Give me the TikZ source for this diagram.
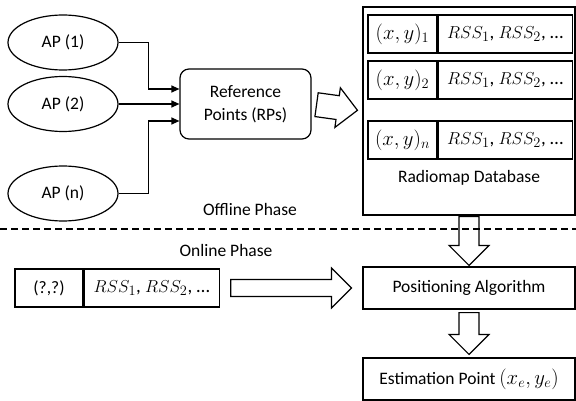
\documentclass[tikz,border=0pt]{standalone}
\usepackage{fontspec}
\setmainfont{Carlito}
\usepackage{tikz}
\usetikzlibrary{arrows.meta, shapes.geometric, positioning, calc}
\tikzstyle{apNode} = [draw, ellipse, line width=1.2pt, minimum width=110pt,
   minimum height=55pt, inner sep=0]
\tikzstyle{rpBox} = [draw, rectangle, rounded corners=9pt, line width=1.2pt,
   minimum width=131pt, minimum height=70pt, align=center]
\tikzstyle{cell} = [draw, rectangle, line width=1.2pt, minimum height=38pt, inner sep=0]
\tikzstyle{stepBox} = [draw, rectangle, line width=1.2pt, minimum width=212pt,
   minimum height=42pt, inner sep=0]
\tikzstyle{apArrow} = [line width=1.2pt, -{Triangle[length=8pt,width=7pt]}]
% hollow block arrow: #1 = half shaft width, #2 = gap at both ends
\tikzset{fatArrow/.style 2 args={line width=1.2pt, line join=miter, to path={
   ($(\tikztostart)!#2!(\tikztotarget)!#1!90:(\tikztotarget)$)
   -- ($(\tikztotarget)!#2+20pt!(\tikztostart)!#1!-90:(\tikztostart)$)
   -- ($(\tikztotarget)!#2+20pt!(\tikztostart)!20pt!-90:(\tikztostart)$)
   -- ($(\tikztotarget)!#2!(\tikztostart)$)
   -- ($(\tikztotarget)!#2+20pt!(\tikztostart)!20pt!90:(\tikztostart)$)
   -- ($(\tikztotarget)!#2+20pt!(\tikztostart)!#1!90:(\tikztostart)$)
   -- ($(\tikztostart)!#2!(\tikztotarget)!#1!-90:(\tikztotarget)$)
   -- cycle}}}
\newcommand{\rssrow}{{\fontsize{19}{23}\selectfont$RSS_1$, $RSS_2$, …}}
\newcommand{\bigmath}[1]{{\fontsize{19.5}{23}\selectfont$#1$}}

\begin{document}
\begin{tikzpicture}[x=1pt, y=-1pt, font=\fontsize{17.5}{23}\selectfont]
  \useasboundingbox (0,0) rectangle (576,401);
  % offline side
  \node[apNode] (a) at (63,42.5) {AP (1)};
  \node[apNode] (b) at (63,104) {AP (2)};
  \node[apNode] (n) at (63,193.5) {AP (n)};
  \node[rpBox] (rp) at (245.5,104) {Reference\\Points (RPs)};
  \node[draw, rectangle, line width=1.2pt, minimum width=212pt,
     minimum height=208pt] (db) at (469,111) {};
  \node[cell, minimum width=69pt] (k1) at (402.5,34) {\bigmath{(x,y)_1}};
  \node[cell, minimum width=134pt, right=0pt of k1] (v1) {\rssrow};
  \node[cell, minimum width=69pt] (k2) at (402.5,80) {\bigmath{(x,y)_2}};
  \node[cell, minimum width=134pt, right=0pt of k2] (v2) {\rssrow};
  \node[cell, minimum width=69pt] (kn) at (402.5,140) {\bigmath{(x,y)_n}};
  \node[cell, minimum width=134pt, right=0pt of kn] (vn) {\rssrow};
  \node (dbl) at (469,178) {Radiomap Database};
  \node (off) at (250,209) {Offline Phase};
  % phase border
  \coordinate (dl) at (0,229);
  \coordinate (dr) at (576,229);
  \draw[line width=1.2pt, dash pattern=on 7pt off 4pt] (dl) -- (dr);
  % online side
  \node (on) at (226,250) {Online Phase};
  \node[cell, minimum width=68pt] (qk) at (49,288) {(?,?)};
  \node[cell, minimum width=135pt, right=0pt of qk] (qv) {\rssrow};
  \node[stepBox] (pos) at (469,288) {Positioning Algorithm};
  \node[stepBox] (est) at (469,379) {Estimation Point \bigmath{(x_e, y_e)}};

  % arrows
  \draw[apArrow] (a.east) -- ++(30,0) |- ([yshift=15pt]rp.west);
  \draw[apArrow] (b.east) -- (rp.west);
  \draw[apArrow] (n.east) -- ++(30,0) |- ([yshift=-17pt]rp.west);
  \draw[fatArrow={12pt}{5pt}] (rp.east) to (db.west);
  \draw[fatArrow={8.5pt}{11pt}] (qv.east) to (pos.west);
  \draw[fatArrow={10pt}{1pt}] (db.south) to (pos.north);
  \draw[fatArrow={10pt}{3pt}] (pos.south) to (est.north);
\end{tikzpicture}
\end{document}
